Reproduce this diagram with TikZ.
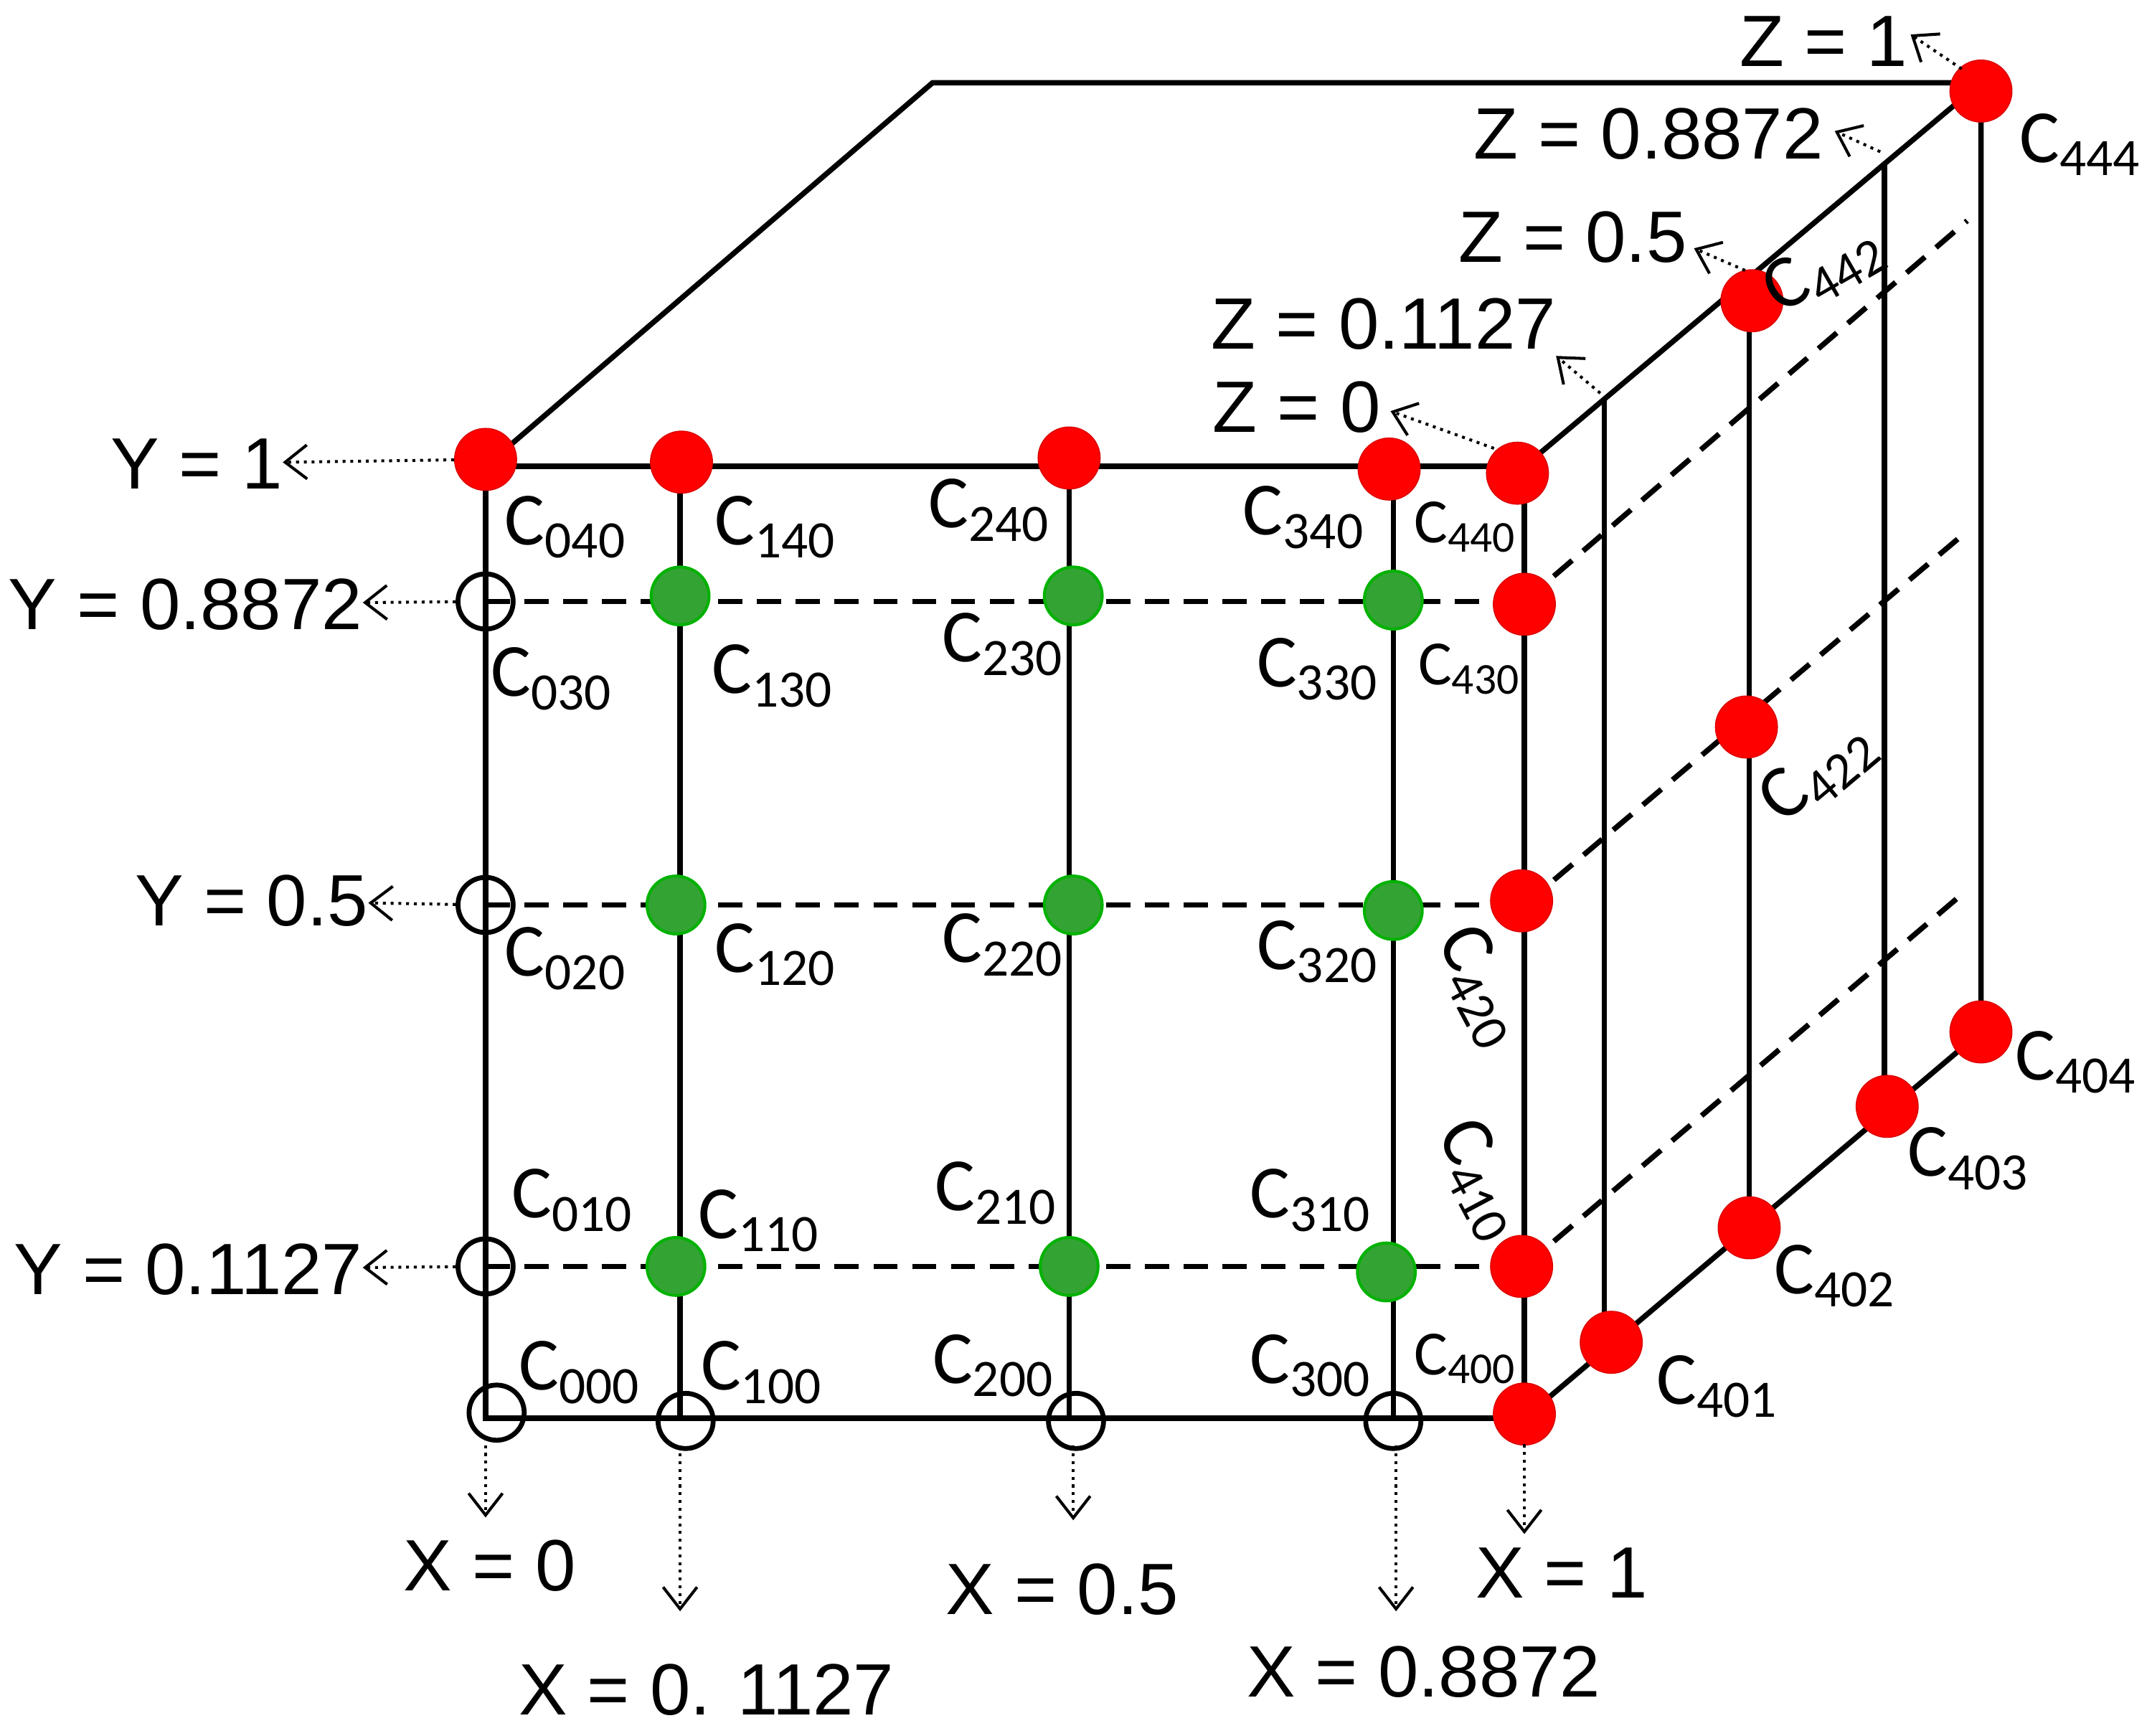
\documentclass[tikz,border=0pt]{standalone}
\usepackage{fontspec}
\setmainfont{Liberation Sans}
\newfontfamily\cfont{Carlito}
\usetikzlibrary{arrows.meta}
\begin{document}
\begin{tikzpicture}[x=0.02cm,y=-0.02cm,
  edge/.style={line width=2.2pt},
  dsh/.style={line width=2.2pt,dash pattern=on 10pt off 6pt},
  reddot/.style={circle,fill=red,draw=red!85!black,minimum width=0.84cm,minimum height=0.9cm,inner sep=0},
  grndot/.style={circle,fill=green!55!black!80,draw=green!70!black,line width=1.2pt,minimum size=0.84cm,inner sep=0},
  opendot/.style={circle,draw,line width=2pt,minimum size=0.8cm,inner sep=0},
  lab/.style={font=\cfont\fontsize{31}{31}\selectfont,inner sep=0},
  txt/.style={font=\fontsize{30}{30}\selectfont,inner sep=0},
  arr/.style={dotted,line width=1.2pt,-{Straight Barb[length=9pt,width=14pt,line width=1.2pt]}}]
\useasboundingbox (0,0) rectangle (1560,1258);
\coordinate (f00) at (352,1028); \coordinate (f10) at (1105,1028);
\coordinate (f01) at (352,338); \coordinate (f11) at (1105,338);
\coordinate (bTL) at (676,60); \coordinate (bTR) at (1436,60); \coordinate (bBR) at (1436,748);
\draw[edge] (f00)--(f10)--(f11)--(f01)--cycle;
\draw[edge] (f01)--(bTL)--(bTR)--(f11);
\draw[edge] (bTR)--(bBR)--(f10);
\foreach \x in {493,775,1010} \draw[edge] (\x,338)--(\x,1028);
\draw[edge] (1163,290)--(1163,975);
\draw[edge] (1268,207)--(1268,890);
\draw[edge] (1366,118)--(1366,802);
\foreach \y/\e in {436/160,656/385,918/645}{
  \draw[dsh] (352,\y)--(1105,\y);
  \draw[dsh] (1105,\y)--(1426,\e);}
\foreach \n/\x/\y in {a/352/333,b/494/335,c/775/332,d/1007/340,e/1100/343,f/1105/438,g/1103/653,h/1103/918,i/1105/1025,j/1168/973,k/1268/890,l/1368/802,m/1436/748,n/1436/66,o/1270/218,p/1266/527}
  \node[reddot] (r\n) at (\x,\y) {};
\foreach \n/\x/\y in {a/493/432,b/778/432,c/1010/435,d/490/656,e/778/656,f/1010/660,g/490/918,h/775/918,i/1005/922}
  \node[grndot] (g\n) at (\x,\y) {};
\foreach \n/\x/\y in {a/352/436,b/352/656,c/352/918,d/360/1024,e/497/1030,f/780/1030,g/1010/1030}
  \node[opendot] (o\n) at (\x,\y) {};
\foreach \x/\y/\s in {410/382/040,562/382/140,717/370/240,945/375/340,
 400/492/030,560/490/130,727/467/230,955/485/330,
 410/695/020,562/692/120,727/685/220,955/690/320,
 415/870/010,550/885/110,722/865/210,950/870/310,
 420/995/000,552/995/100,720/990/200,950/990/300,
 1245/1005/401,1330/925/402,1427/840/403,1505/770/404,1508/105/444}
  \node[lab] at (\x,\y) {C\textsubscript{\s}};
\foreach \x/\y/\s in {1062/382/440,1065/485/430,1062/985/400}
  \node[lab,font=\cfont\fontsize{26}{26}\selectfont] at (\x,\y) {C\textsubscript{\s}};
\node[lab,rotate=-62] at (1073,715) {C\textsubscript{420}};
\node[lab,rotate=-62] at (1073,855) {C\textsubscript{410}};
\node[lab,rotate=40] at (1318,560) {C\textsubscript{422}};
\node[lab,rotate=30] at (1322,195) {C\textsubscript{442}};
\node[txt,anchor=east] (y1) at (205,336) {Y = 1};
\node[txt,anchor=east] (y2) at (263,438) {Y = 0.8872};
\node[txt,anchor=east] (y3) at (267,653) {Y = 0.5};
\node[txt,anchor=east] (y4) at (263,920) {Y = 0.1127};
\draw[arr] (ra) -- (y1);
\draw[arr] (oa) -- (y2);
\draw[arr] (ob) -- (y3);
\draw[arr] (oc) -- (y4);
\node[txt] (x1) at (355,1135) {X = 0};
\node[txt] (x2) at (512,1225) {X = 0. 1127};
\node[txt] (x3) at (770,1152) {X = 0.5};
\node[txt] (x4) at (1032,1212) {X = 0.8872};
\node[txt] (x5) at (1132,1140) {X = 1};
\coordinate (xa) at (352,1100); \coordinate (xb) at (493,1168);
\coordinate (xc) at (778,1102); \coordinate (xd) at (1012,1168);
\coordinate (xe) at (1105,1112);
\draw[arr] (od) ++(-8,18) -- (xa);
\draw[arr] (oe) ++(-4,18) -- (xb);
\draw[arr] (of) ++(-2,18) -- (xc);
\draw[arr] (og) ++(2,18) -- (xd);
\draw[arr] (ri) ++(0,22) -- (xe);
\node[txt] (z0) at (940,295) {Z = 0};
\node[txt] (z1) at (1003,235) {Z = 0.1127};
\node[txt] (z2) at (1140,172) {Z = 0.5};
\node[txt] (z3) at (1195,97) {Z = 0.8872};
\node[txt] (z4) at (1322,30) {Z = 1};
\coordinate (za) at (1083,325); \coordinate (zb) at (1160,285);
\coordinate (zc) at (1265,196); \coordinate (zd) at (1363,110); \coordinate (ze) at (1422,50);
\draw[arr] (za) -- (1008,298);
\draw[arr] (zb) -- (1128,258);
\draw[arr] (zc) -- (1228,180);
\draw[arr] (zd) -- (1330,95);
\draw[arr] (ze) -- (1385,25);
\end{tikzpicture}
\end{document}
